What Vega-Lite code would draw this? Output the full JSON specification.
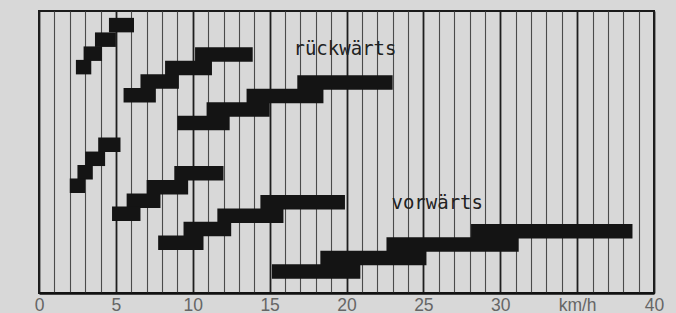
{
  "$schema": "https://vega.github.io/schema/vega-lite/v6.json",
  "width": 615,
  "height": 282,
  "autosize": {"type": "none"},
  "padding": {"left": 39, "top": 11, "right": 22, "bottom": 20},
  "background": "#d8d8d8",
  "config": {
    "view": {"stroke": "#1a1a1a", "strokeWidth": 2, "fill": "#d8d8d8"}
  },
  "layer": [
    {
      "data": {
        "values": [
          {"direction": "rückwärts", "gear": "R1", "step": 1, "from": 4.55, "to": 6.18, "lane": 0.67},
          {"direction": "rückwärts", "gear": "R1", "step": 2, "from": 3.64, "to": 5.0, "lane": 1.74},
          {"direction": "rückwärts", "gear": "R1", "step": 3, "from": 2.9, "to": 4.1, "lane": 2.77},
          {"direction": "rückwärts", "gear": "R1", "step": 4, "from": 2.4, "to": 3.4, "lane": 3.76},
          {"direction": "rückwärts", "gear": "R2", "step": 1, "from": 10.15, "to": 13.9, "lane": 2.84},
          {"direction": "rückwärts", "gear": "R2", "step": 2, "from": 8.2, "to": 11.25, "lane": 3.83},
          {"direction": "rückwärts", "gear": "R2", "step": 3, "from": 6.6, "to": 9.1, "lane": 4.82},
          {"direction": "rückwärts", "gear": "R2", "step": 4, "from": 5.5, "to": 7.6, "lane": 5.82},
          {"direction": "rückwärts", "gear": "R3", "step": 1, "from": 16.8, "to": 23.0, "lane": 4.89},
          {"direction": "rückwärts", "gear": "R3", "step": 2, "from": 13.5, "to": 18.5, "lane": 5.89},
          {"direction": "rückwärts", "gear": "R3", "step": 3, "from": 10.9, "to": 15.0, "lane": 6.88},
          {"direction": "rückwärts", "gear": "R3", "step": 4, "from": 9.0, "to": 12.4, "lane": 7.87},
          {"direction": "vorwärts", "gear": "V1", "step": 1, "from": 3.85, "to": 5.3, "lane": 9.47},
          {"direction": "vorwärts", "gear": "V1", "step": 2, "from": 3.0, "to": 4.3, "lane": 10.5},
          {"direction": "vorwärts", "gear": "V1", "step": 3, "from": 2.5, "to": 3.5, "lane": 11.49},
          {"direction": "vorwärts", "gear": "V1", "step": 4, "from": 2.0, "to": 3.0, "lane": 12.48},
          {"direction": "vorwärts", "gear": "V2", "step": 1, "from": 8.8, "to": 12.0, "lane": 11.56},
          {"direction": "vorwärts", "gear": "V2", "step": 2, "from": 7.0, "to": 9.7, "lane": 12.59},
          {"direction": "vorwärts", "gear": "V2", "step": 3, "from": 5.7, "to": 7.9, "lane": 13.58},
          {"direction": "vorwärts", "gear": "V2", "step": 4, "from": 4.75, "to": 6.6, "lane": 14.54},
          {"direction": "vorwärts", "gear": "V3", "step": 1, "from": 14.4, "to": 19.9, "lane": 13.69},
          {"direction": "vorwärts", "gear": "V3", "step": 2, "from": 11.6, "to": 15.9, "lane": 14.68},
          {"direction": "vorwärts", "gear": "V3", "step": 3, "from": 9.4, "to": 12.5, "lane": 15.67},
          {"direction": "vorwärts", "gear": "V3", "step": 4, "from": 7.75, "to": 10.7, "lane": 16.67},
          {"direction": "vorwärts", "gear": "V4", "step": 1, "from": 28.1, "to": 38.6, "lane": 15.82},
          {"direction": "vorwärts", "gear": "V4", "step": 2, "from": 22.6, "to": 31.2, "lane": 16.81},
          {"direction": "vorwärts", "gear": "V4", "step": 3, "from": 18.3, "to": 25.2, "lane": 17.8},
          {"direction": "vorwärts", "gear": "V4", "step": 4, "from": 15.15, "to": 20.9, "lane": 18.79}
        ]
      },
      "mark": {"type": "bar", "size": 14.5, "color": "#141414", "cornerRadius": 0},
      "encoding": {
        "x": {
          "field": "from",
          "type": "quantitative",
          "scale": {"domain": [0, 40], "nice": false, "zero": false},
          "axis": {
            "values": [0,1,2,3,4,5,6,7,8,9,10,11,12,13,14,15,16,17,18,19,20,21,22,23,24,25,26,27,28,29,30,31,32,33,34,35,36,37,38,39,40],
            "grid": true,
            "gridColor": {"condition": {"test": "datum.value % 5 === 0", "value": "#1e1e1e"}, "value": "#4a4a4a"},
            "gridWidth": {"condition": {"test": "datum.value % 5 === 0", "value": 1.8}, "value": 1.1},
            "gridOpacity": 1,
            "ticks": false,
            "domain": true,
            "domainColor": "#111111",
            "domainWidth": 2.5,
            "labelExpr": "datum.value % 5 === 0 ? (datum.value === 35 ? 'km/h' : datum.label) : ''",
            "labelFont": "Liberation Sans",
            "labelFontSize": 17.5,
            "labelColor": "#666666",
            "labelPadding": 3,
            "labelFlush": false,
            "labelOverlap": false,
            "title": null
          }
        },
        "x2": {"field": "to"},
        "y": {
          "field": "lane",
          "type": "quantitative",
          "scale": {"domain": [0, 20], "reverse": true, "nice": false, "zero": false},
          "axis": null
        }
      }
    },
    {
      "data": {
        "values": [
          {"label": "rückwärts", "from": 19.9, "lane": 2.41},
          {"label": "vorwärts", "from": 25.9, "lane": 13.76}
        ]
      },
      "mark": {"type": "text", "font": "DejaVu Sans Mono", "fontSize": 19, "color": "#222222", "align": "center", "baseline": "middle"},
      "encoding": {
        "x": {
          "field": "from",
          "type": "quantitative",
          "scale": {"domain": [0, 40], "nice": false, "zero": false},
          "axis": {
            "values": [0,1,2,3,4,5,6,7,8,9,10,11,12,13,14,15,16,17,18,19,20,21,22,23,24,25,26,27,28,29,30,31,32,33,34,35,36,37,38,39,40],
            "grid": true,
            "gridColor": {"condition": {"test": "datum.value % 5 === 0", "value": "#1e1e1e"}, "value": "#4a4a4a"},
            "gridWidth": {"condition": {"test": "datum.value % 5 === 0", "value": 1.8}, "value": 1.1},
            "gridOpacity": 1,
            "ticks": false,
            "domain": true,
            "domainColor": "#111111",
            "domainWidth": 2.5,
            "labelExpr": "datum.value % 5 === 0 ? (datum.value === 35 ? 'km/h' : datum.label) : ''",
            "labelFont": "Liberation Sans",
            "labelFontSize": 17.5,
            "labelColor": "#666666",
            "labelPadding": 3,
            "labelFlush": false,
            "labelOverlap": false,
            "title": null
          }
        },
        "y": {
          "field": "lane",
          "type": "quantitative",
          "scale": {"domain": [0, 20], "reverse": true, "nice": false, "zero": false},
          "axis": null
        },
        "text": {"field": "label"}
      }
    }
  ]
}
